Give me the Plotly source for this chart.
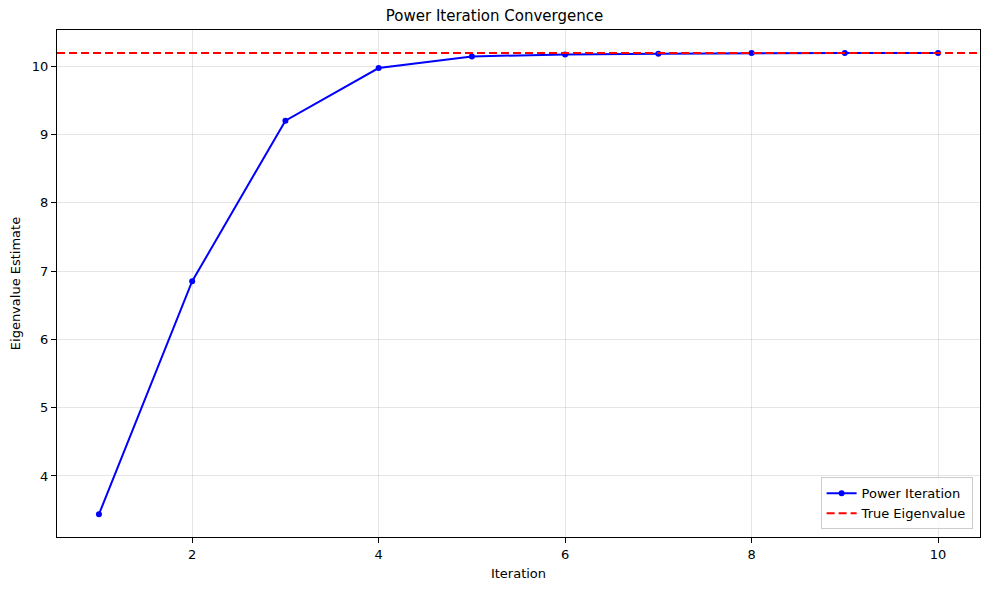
import plotly.graph_objects as go

iterations = [1, 2, 3, 4, 5, 6, 7, 8, 9, 10]
estimates = [3.44, 6.85, 9.20, 9.97, 10.14, 10.17, 10.18, 10.19, 10.19, 10.19]
true_eigenvalue = 10.19
x_range = [0.55, 10.45]
y_range = [3.107, 10.527]

fig = go.Figure()
fig.add_trace(go.Scatter(
    x=iterations, y=estimates, mode="lines+markers", name="Power Iteration",
    line=dict(color="blue", width=2), marker=dict(color="blue", size=6)))
fig.add_trace(go.Scatter(
    x=x_range, y=[true_eigenvalue, true_eigenvalue], mode="lines", name="True Eigenvalue",
    line=dict(color="red", width=2, dash="8px,4px")))

axis_common = dict(
    showline=True, linecolor="black", linewidth=1, mirror=True,
    ticks="outside", ticklen=5, tickcolor="black", tickwidth=1,
    showgrid=True, gridcolor="rgba(0,0,0,0.1)", gridwidth=1,
    zeroline=False, tickfont=dict(size=13, color="black"),
    title_font=dict(size=13, color="black"))

fig.update_layout(
    width=989, height=590,
    margin=dict(l=57, r=9, t=30, b=53),
    plot_bgcolor="white", paper_bgcolor="white",
    font=dict(family="DejaVu Sans", size=13, color="black"),
    title=dict(text="Power Iteration Convergence", x=0.5, xanchor="center",
               y=1 - 16 / 590, yanchor="middle", font=dict(size=15)),
    xaxis=dict(range=x_range, tickvals=[2, 4, 6, 8, 10], title=dict(text="Iteration", standoff=8), **axis_common),
    yaxis=dict(range=y_range, tickvals=[4, 5, 6, 7, 8, 9, 10], title=dict(text="Eigenvalue Estimate", standoff=8), **axis_common),
    legend=dict(x=0.992, y=0.015, xanchor="right", yanchor="bottom",
                bordercolor="#cccccc", borderwidth=1, bgcolor="rgba(255,255,255,0.8)",
                font=dict(size=13)),
    showlegend=True,
)

fig.write_html("out.html")
